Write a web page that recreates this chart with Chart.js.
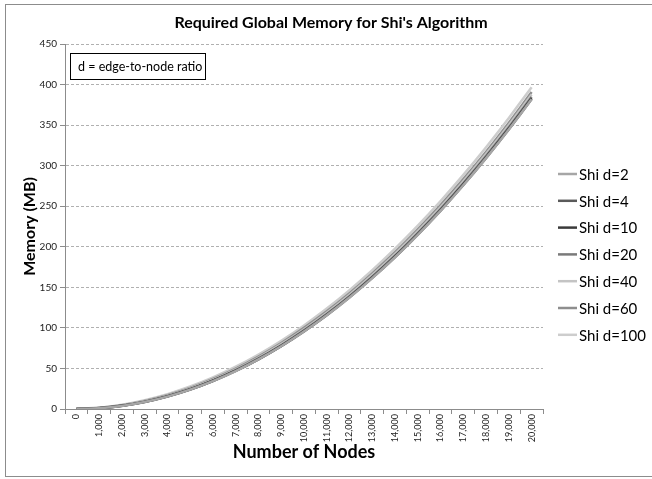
<!DOCTYPE html>
<html lang="en">
<head>
<meta charset="UTF-8">
<script src="https://cdn.jsdelivr.net/npm/chart.js@4.4.1/dist/chart.umd.min.js"></script>
<title>Shi memory</title>
<style>
  html, body { margin: 0; padding: 0; background: #fff; }
  #wrap { width: 652px; height: 479px; }
</style>
</head>
<body>
<div id="wrap"><canvas id="myChart" width="652" height="479"></canvas></div>
<script>
  const FONT = 'Lato, "Open Sans", sans-serif';

  const nodes = ['0', '1,000', '2,000', '3,000', '4,000', '5,000', '6,000', '7,000', '8,000', '9,000', '10,000',
    '11,000', '12,000', '13,000', '14,000', '15,000', '16,000', '17,000', '18,000', '19,000', '20,000'];

  const shiD2 = [0, 1.0, 3.8, 8.6, 15.3, 23.9, 34.4, 46.8, 61.2, 77.4, 95.5, 115.5, 137.5, 161.4, 187.1, 214.8, 244.3, 275.8, 309.3, 344.6, 381.8];
  const shiD4 = [0, 1.0, 3.9, 8.7, 15.4, 24.0, 34.5, 46.9, 61.3, 77.5, 95.7, 115.7, 137.7, 161.6, 187.3, 215.1, 244.6, 276.1, 309.6, 344.9, 382.1];
  const shiD10 = [0, 1.0, 4.0, 8.8, 15.6, 24.2, 34.8, 47.3, 61.6, 77.9, 96.1, 116.2, 138.2, 162.2, 188.0, 215.7, 245.3, 276.9, 310.4, 345.7, 383.0];
  const shiD20 = [0, 1.1, 4.1, 9.0, 15.9, 24.6, 35.2, 47.8, 62.3, 78.6, 96.9, 117.1, 139.2, 163.2, 189.0, 216.9, 246.5, 278.2, 311.8, 347.2, 384.6];
  const shiD40 = [0, 1.3, 4.4, 9.5, 16.5, 25.4, 36.2, 48.9, 63.5, 80.0, 98.4, 118.8, 141.0, 165.2, 191.2, 219.2, 249.0, 280.8, 314.5, 350.1, 387.6];
  const shiD60 = [0, 1.4, 4.7, 9.9, 17.1, 26.1, 37.1, 49.9, 64.7, 81.4, 100.0, 120.4, 142.8, 167.2, 193.3, 221.5, 251.4, 283.4, 317.2, 353.0, 390.7];
  const shiD100 = [0, 1.7, 5.3, 10.9, 18.3, 27.7, 38.9, 52.1, 67.1, 84.1, 103.0, 123.8, 146.5, 171.1, 197.6, 226.0, 256.3, 288.6, 322.7, 358.8, 396.8];

  const seriesNames = ['Shi d=2', 'Shi d=4', 'Shi d=10', 'Shi d=20', 'Shi d=40', 'Shi d=60', 'Shi d=100'];
  const seriesValues = [shiD2, shiD4, shiD10, shiD20, shiD40, shiD60, shiD100];
  const seriesColors = ['#a6a6a6', '#5a5a5a', '#3a3a3a', '#7a7a7a', '#c4c4c4', '#8e8e8e', '#cdcdcd'];

  const yTicks = [0, 50, 100, 150, 200, 250, 300, 350, 400, 450];

  // title, axis titles, note box, legend and outer frame
  const decor = {
    id: 'decor',
    afterDraw(chart) {
      const ctx = chart.ctx;
      const area = chart.chartArea;
      ctx.save();
      ctx.strokeStyle = '#8c8c8c';
      ctx.lineWidth = 1;
      ctx.strokeRect(5.5, 4.5, 660, 472);

      ctx.fillStyle = '#000';
      ctx.textAlign = 'center';
      ctx.textBaseline = 'middle';
      ctx.font = 'bold 16px ' + FONT;
      ctx.fillText("Required Global Memory for Shi's Algorithm", 331, 23);

      ctx.font = 'bold 18px ' + FONT;
      ctx.fillText('Number of Nodes', (area.left + area.right) / 2, 452);

      ctx.save();
      ctx.translate(30, (area.top + area.bottom) / 2);
      ctx.rotate(-Math.PI / 2);
      ctx.font = 'bold 16px ' + FONT;
      ctx.fillText('Memory (MB)', 0, 0);
      ctx.restore();

      ctx.fillStyle = '#fff';
      ctx.fillRect(70.5, 53.5, 135, 26);
      ctx.strokeStyle = '#000';
      ctx.strokeRect(70.5, 53.5, 135, 26);
      ctx.fillStyle = '#000';
      ctx.textAlign = 'left';
      ctx.font = '12.5px ' + FONT;
      ctx.fillText('d = edge-to-node ratio', 78, 67);

      chart.data.datasets.forEach((ds, i) => {
        const y = 174 + i * 26.8;
        ctx.strokeStyle = ds.borderColor;
        ctx.lineWidth = 2.5;
        ctx.beginPath();
        ctx.moveTo(558, y);
        ctx.lineTo(577, y);
        ctx.stroke();
        ctx.fillStyle = '#000';
        ctx.font = '15px ' + FONT;
        ctx.fillText(ds.label, 579, y + 1);
      });
      ctx.restore();
    }
  };

  const ctx = document.getElementById('myChart').getContext('2d');
  const myChart = new Chart(ctx, {
    type: 'line',
    data: {
      labels: nodes,
      datasets: seriesNames.map((name, i) => ({
        label: name,
        data: seriesValues[i],
        borderColor: seriesColors[i],
        backgroundColor: seriesColors[i],
        borderWidth: 2.5,
        pointRadius: 0,
        tension: 0.2
      }))
    },
    options: {
      responsive: false,
      animation: false,
      layout: { padding: { left: 0, top: 44, right: 109, bottom: 0 } },
      plugins: { legend: { display: false }, tooltip: { enabled: false } },
      scales: {
        x: {
          offset: true,
          grid: { display: true, drawOnChartArea: false, drawTicks: true, tickLength: 5, offset: true, color: '#8c8c8c' },
          border: { display: true, color: '#8c8c8c' },
          ticks: {
            minRotation: 90, maxRotation: 90, autoSkip: false, padding: 0,
            color: '#222', font: { family: FONT, size: 9 }
          },
          afterFit(scale) { scale.height = 70; }
        },
        y: {
          min: 0,
          max: 450,
          afterBuildTicks(scale) { scale.ticks = yTicks.map((v) => ({ value: v })); },
          grid: { color: '#b0b0b0', drawTicks: true, tickLength: 5, tickColor: '#8c8c8c', tickBorderDash: [] },
          border: { display: true, color: '#8c8c8c', dash: [3, 2] },
          ticks: { padding: 3, color: '#222', font: { family: FONT, size: 10 } },
          afterFit(scale) { scale.width = 65; }
        }
      }
    },
    plugins: [decor]
  });
</script>
</body>
</html>
